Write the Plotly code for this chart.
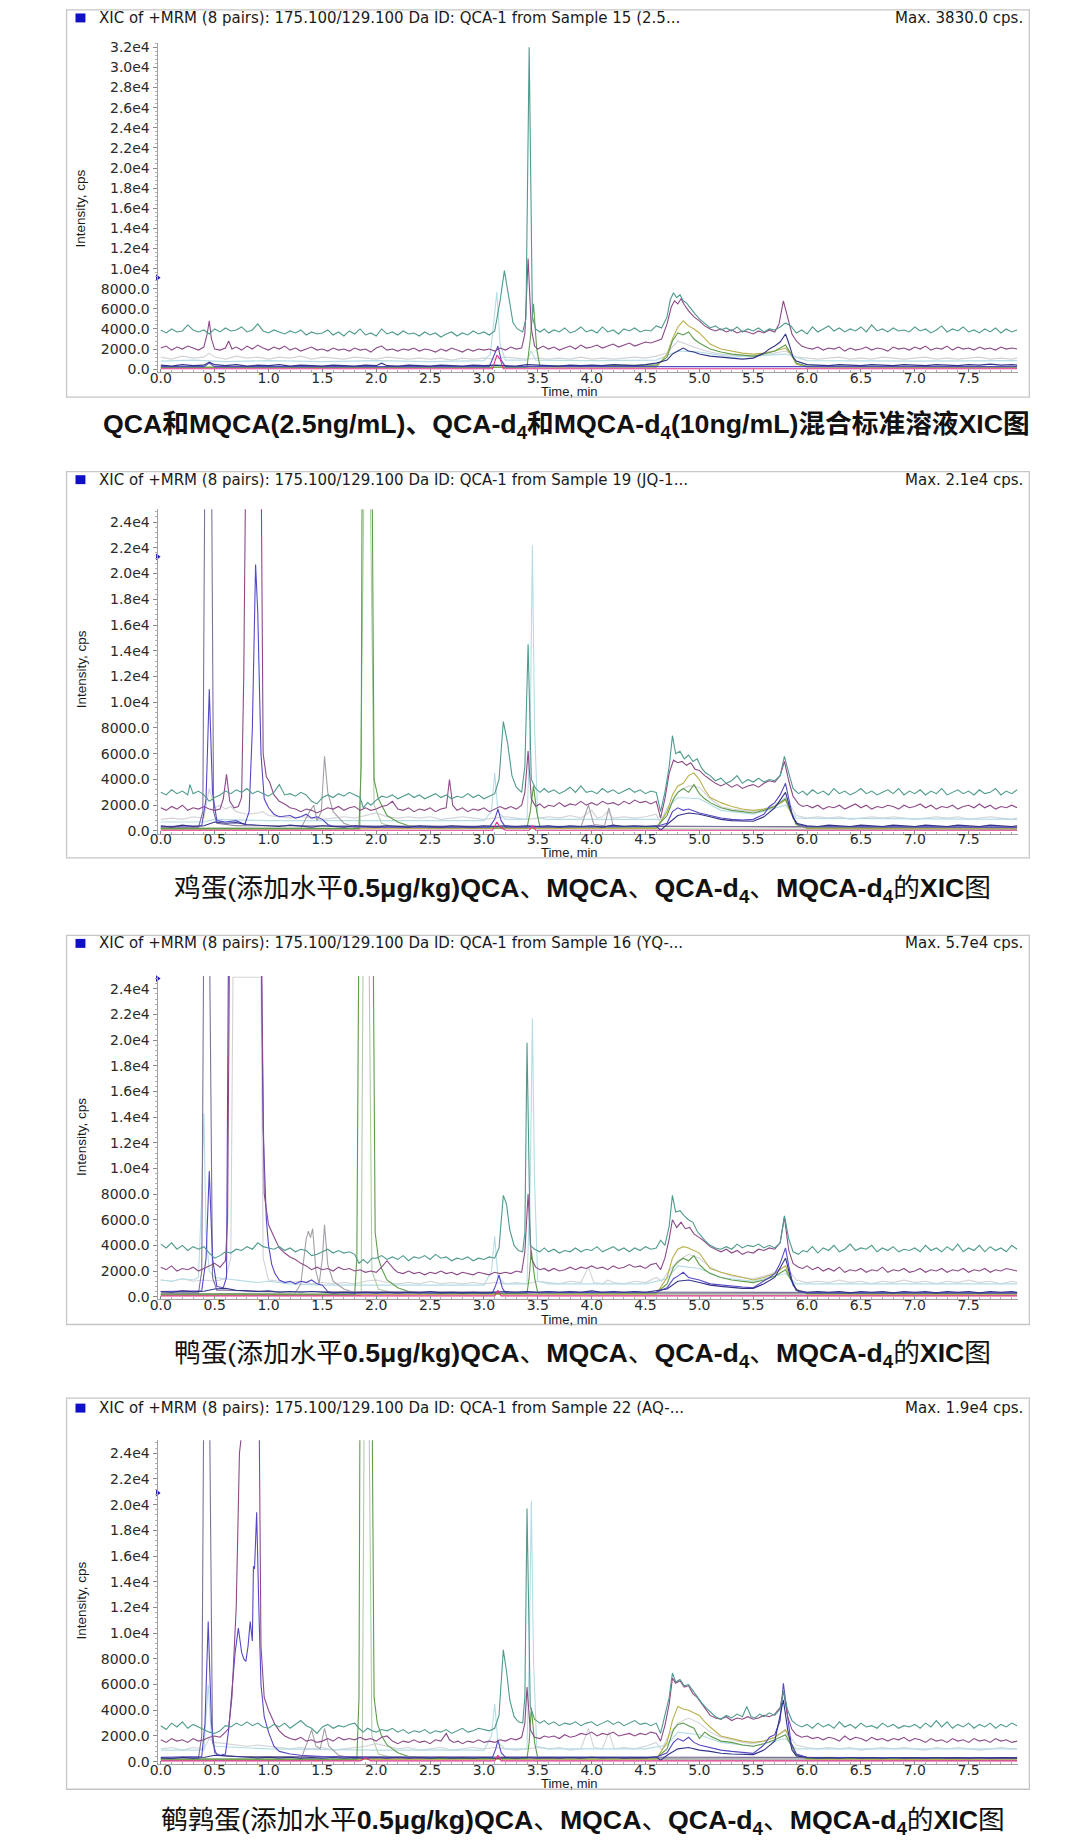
import plotly.graph_objects as go

# ======================= DATA (time, min ; intensity, cps) =======================
# ---------- Panel 1 : standard solution ----------
P1_TEAL = [(0.00,3900),(0.05,3600),(0.10,4000),(0.15,3700),(0.20,3800),(0.25,4400),(0.30,3900),(0.35,3700),(0.40,3900),(0.45,3500),(0.50,4000),(0.55,3700),(0.60,4100),(0.65,3800),(0.70,3900),(0.75,4200),(0.80,3700),(0.85,3900),(0.90,4500),(0.95,3800),
(1.00,3600),(1.05,3900),(1.10,3700),(1.15,3500),(1.20,3800),(1.25,3600),(1.30,3900),(1.35,3400),(1.40,3700),(1.45,3500),(1.50,3600),(1.55,3900),(1.60,3400),(1.65,3700),(1.70,3300),(1.75,3800),(1.80,3500),(1.85,4000),(1.90,3400),(1.95,3600),
(2.00,3300),(2.05,4000),(2.10,3500),(2.15,3700),(2.20,3400),(2.25,3800),(2.30,3500),(2.35,3600),(2.40,3300),(2.45,3700),(2.50,3400),(2.55,3600),(2.60,3200),(2.65,3500),(2.70,3700),(2.75,3300),(2.80,3600),(2.85,3400),(2.90,3800),(2.95,3500),
(3.00,3700),(3.05,3400),(3.10,3800),(3.15,6800),(3.19,9800),(3.23,7000),(3.27,4600),(3.31,4000),(3.36,3700),(3.39,5000),(3.42,32000),(3.45,5200),(3.48,4000),(3.52,3700),(3.56,4000),(3.60,3600),(3.65,3900),(3.70,3700),(3.75,4100),(3.80,3600),(3.85,3800),(3.90,4200),(3.95,3700),
(4.00,3900),(4.05,3600),(4.10,4200),(4.15,3700),(4.20,3900),(4.25,3500),(4.30,4000),(4.35,3800),(4.40,4100),(4.45,3700),(4.50,3900),(4.55,3800),(4.60,4300),(4.65,4100),(4.70,5200),(4.73,6900),(4.76,7600),(4.79,7100),(4.82,7400),(4.85,6800),(4.88,6600),(4.92,6000),(4.96,5500),
(5.00,5000),(5.05,4500),(5.10,4100),(5.15,4300),(5.20,3900),(5.25,4100),(5.30,3800),(5.35,4200),(5.40,3700),(5.45,4000),(5.50,3800),(5.55,4100),(5.60,3700),(5.65,4000),(5.70,3900),(5.75,4200),(5.80,4600),(5.85,4300),(5.90,3600),(5.95,3900),
(6.00,3500),(6.05,4200),(6.10,3700),(6.15,4000),(6.20,4300),(6.25,3800),(6.30,4100),(6.35,3700),(6.40,4000),(6.45,3800),(6.50,4200),(6.55,3700),(6.60,4400),(6.65,3800),(6.70,4000),(6.75,3700),(6.80,4100),(6.85,3800),(6.90,3900),(6.95,3700),
(7.00,4200),(7.05,3800),(7.10,4000),(7.15,3600),(7.20,3900),(7.25,4300),(7.30,3700),(7.35,4000),(7.40,3800),(7.45,4200),(7.50,3700),(7.55,3900),(7.60,3600),(7.65,4000),(7.70,3700),(7.75,4100),(7.80,3600),(7.85,4000),(7.90,3700),(7.95,3900)]
P1_PURPLE = [(0.00,2100),(0.05,2300),(0.10,1900),(0.15,2200),(0.20,2000),(0.25,2300),(0.30,2100),(0.35,1900),(0.40,2200),(0.43,3500),(0.45,4800),(0.47,3000),(0.50,2000),(0.55,1900),(0.60,2100),(0.63,2800),(0.66,2000),(0.70,2200),(0.75,1900),(0.80,2300),(0.85,2000),(0.90,2400),(0.95,2100),
(1.00,1900),(1.05,2200),(1.10,2000),(1.15,2300),(1.20,1900),(1.25,2100),(1.30,1800),(1.35,2000),(1.40,2200),(1.45,1900),(1.50,2000),(1.55,1800),(1.60,2100),(1.65,1900),(1.70,2000),(1.75,1800),(1.80,2100),(1.85,1900),(1.90,2000),(1.95,1700),
(2.00,2100),(2.05,2300),(2.10,1900),(2.15,2000),(2.20,1800),(2.25,2000),(2.30,1900),(2.35,2100),(2.40,1800),(2.45,2000),(2.50,1900),(2.55,1700),(2.60,2000),(2.65,1800),(2.70,2100),(2.75,1900),(2.80,1700),(2.85,2000),(2.90,1800),(2.95,2000),
(3.00,1900),(3.05,2000),(3.10,1800),(3.15,2100),(3.20,1900),(3.25,2200),(3.30,2000),(3.35,2100),(3.38,3500),(3.41,11000),(3.44,4000),(3.47,2300),(3.50,2000),(3.55,2300),(3.60,2000),(3.65,2200),(3.70,1900),(3.75,2100),(3.80,2300),(3.85,2000),(3.90,2400),(3.95,2100),
(4.00,2200),(4.05,2400),(4.10,2100),(4.15,2300),(4.20,2500),(4.25,2200),(4.30,2400),(4.35,2600),(4.40,2300),(4.45,2500),(4.50,2700),(4.55,2600),(4.60,2800),(4.65,3000),(4.70,4500),(4.74,6200),(4.77,6800),(4.80,6500),(4.83,7000),(4.86,6400),(4.90,5800),(4.95,5200),
(5.00,4800),(5.05,4300),(5.10,4000),(5.15,3800),(5.20,4000),(5.25,3700),(5.30,3900),(5.35,3600),(5.40,3800),(5.45,3700),(5.50,3500),(5.55,3800),(5.60,3600),(5.65,3900),(5.70,3700),(5.74,4500),(5.78,6800),(5.82,5000),(5.86,3500),(5.90,2800),(5.95,2300),
(6.00,2100),(6.05,2000),(6.10,2200),(6.15,1900),(6.20,2100),(6.25,2000),(6.30,2200),(6.35,1800),(6.40,2100),(6.45,1900),(6.50,2000),(6.55,2200),(6.60,1900),(6.65,2100),(6.70,2000),(6.75,1800),(6.80,2200),(6.85,2000),(6.90,2100),(6.95,1900),
(7.00,2200),(7.05,2000),(7.10,2300),(7.15,1900),(7.20,2100),(7.25,2000),(7.30,2300),(7.35,1900),(7.40,2200),(7.45,2000),(7.50,2100),(7.55,1900),(7.60,2200),(7.65,2000),(7.70,2100),(7.75,1900),(7.80,2200),(7.85,2000),(7.90,2100),(7.95,2000)]
P1_GRAY = [(0,1200),(0.1,1000),(0.2,1300),(0.3,1100),(0.4,1200),(0.45,1600),(0.5,1200),(0.6,1000),(0.7,1300),(0.8,1100),(0.9,1200),(1.0,1000),(1.1,1200),(1.2,1100),(1.3,1300),(1.4,1000),(1.5,1200),(1.6,1100),(1.7,1000),(1.8,1200),(1.9,1100),(2.0,1000),(2.1,1200),(2.2,1100),(2.3,1000),(2.4,1100),(2.5,1000),(2.6,1100),(2.7,900),(2.8,1100),(2.9,1000),(3.0,1100),(3.1,1000),(3.2,1200),(3.3,1100),(3.4,1000),(3.5,1100),(3.6,1000),(3.7,1100),(3.8,1000),(3.9,1200),(4.0,1000),(4.1,1100),(4.2,1000),(4.3,1100),(4.4,1200),(4.5,1100),(4.6,1300),(4.7,1600),(4.8,2800),(4.9,2400),(5.0,2000),(5.1,1700),(5.2,1500),(5.3,1400),(5.4,1300),(5.5,1200),(5.6,1400),(5.7,1600),(5.8,1800),(5.9,1200),(6.0,1100),(6.1,1000),(6.2,1100),(6.3,1200),(6.4,1000),(6.5,1100),(6.6,1000),(6.7,1200),(6.8,1100),(6.9,1000),(7.0,1100),(7.1,1200),(7.2,1000),(7.3,1100),(7.4,1000),(7.5,1100),(7.6,1200),(7.7,1000),(7.8,1100),(7.9,1000),(7.95,1100)]
P1_NAVY = [(0,400),(0.1,300),(0.2,450),(0.3,350),(0.4,400),(0.45,700),(0.5,450),(0.6,350),(0.7,450),(0.8,300),(0.9,400),(1.0,350),(1.1,450),(1.2,300),(1.3,400),(1.4,350),(1.5,300),(1.6,400),(1.7,350),(1.8,300),(1.9,400),(2.0,350),(2.05,600),(2.1,350),(2.2,300),(2.3,400),(2.4,350),(2.5,300),(2.6,400),(2.7,350),(2.8,300),(2.9,400),(3.0,350),(3.1,400),(3.2,350),(3.3,300),(3.4,450),(3.5,400),(3.6,350),(3.7,300),(3.8,400),(3.9,350),(4.0,400),(4.1,350),(4.2,450),(4.3,400),(4.4,350),(4.5,450),(4.6,600),(4.7,900),(4.75,1500),(4.8,1800),(4.85,2100),(4.9,1800),(4.95,1700),(5.0,1500),(5.1,1300),(5.2,1200),(5.3,1100),(5.4,1000),(5.5,1100),(5.6,1600),(5.65,2000),(5.7,2300),(5.75,2700),(5.8,3500),(5.83,2600),(5.87,1200),(5.9,800),(6.0,450),(6.1,400),(6.2,350),(6.3,450),(6.4,400),(6.5,350),(6.6,450),(6.7,400),(6.8,350),(6.9,450),(7.0,400),(7.1,350),(7.2,450),(7.3,400),(7.4,350),(7.5,450),(7.6,400),(7.7,500),(7.8,400),(7.9,450),(7.95,400)]
P1_MAGENTA = [(0,50),(3.08,50),(3.12,1400),(3.15,1000),(3.18,50),(7.95,50)]
P1_VIOLET = [(0,250),(0.4,250),(0.45,600),(0.5,250),(3.05,250),(3.1,1500),(3.13,2300),(3.16,900),(3.2,250),(7.95,250)]
P1_GREEN = [(0,200),(3.40,200),(3.43,3000),(3.46,6500),(3.49,2000),(3.52,300),(4.6,400),(4.7,1200),(4.75,2800),(4.8,3600),(4.85,3400),(4.9,3700),(4.95,3000),(5.0,2600),(5.1,2000),(5.2,1700),(5.3,1500),(5.4,1400),(5.5,1300),(5.6,1500),(5.7,1800),(5.8,2400),(5.85,1500),(5.9,600),(6.0,300),(7.95,250)]
P1_OLIVE = [(0,150),(4.6,200),(4.7,1500),(4.75,3000),(4.8,4200),(4.85,4800),(4.9,4300),(4.95,4000),(5.0,3600),(5.05,3000),(5.1,2500),(5.2,2000),(5.3,1800),(5.4,1600),(5.5,1500),(5.6,1600),(5.7,1800),(5.8,2100),(5.85,1500),(5.9,500),(6.0,200),(7.95,150)]
P1_CYAN = [(0,800),(0.3,900),(0.6,750),(1.0,850),(1.5,750),(2.0,850),(2.5,750),(3.0,850),(3.06,1500),(3.09,4500),(3.12,7700),(3.15,2500),(3.2,900),(3.4,900),(3.44,1800),(3.48,900),(4.0,850),(4.6,900),(4.8,1800),(5.0,1700),(5.3,1200),(5.8,1500),(6.0,850),(7.0,800),(7.95,850)]

# ---------- Panel 2 : chicken egg ----------
P2_TEAL = [(0.00,3000),(0.05,2800),(0.10,3200),(0.15,2900),(0.20,3100),(0.25,2800),(0.27,3600),(0.30,2900),(0.35,3100),(0.40,2800),(0.45,2300),(0.50,2600),(0.55,2800),(0.60,3100),(0.65,2900),(0.70,3200),(0.75,3000),(0.80,3300),(0.85,2900),(0.90,3100),(0.95,2900),
(1.00,2700),(1.05,3000),(1.10,3600),(1.15,2800),(1.20,2900),(1.25,2700),(1.30,3000),(1.35,2800),(1.40,2300),(1.45,2100),(1.50,2600),(1.55,2800),(1.60,2600),(1.65,2900),(1.70,2700),(1.75,3000),(1.80,2800),(1.85,2600),(1.88,1800),(1.92,2200),(1.95,2000),
(2.00,2400),(2.05,2700),(2.10,2600),(2.15,2800),(2.20,2500),(2.25,2700),(2.30,2900),(2.35,2600),(2.40,2800),(2.45,2500),(2.50,2700),(2.55,2900),(2.60,2600),(2.65,2800),(2.70,2500),(2.75,2700),(2.80,2600),(2.85,2900),(2.90,2600),(2.95,2800),
(3.00,2500),(3.05,2700),(3.10,2900),(3.14,4000),(3.18,8500),(3.22,6800),(3.26,4300),(3.30,3400),(3.35,3000),(3.38,5000),(3.41,14500),(3.44,4000),(3.48,3300),(3.52,3000),(3.56,3300),(3.60,3000),(3.65,3200),(3.70,2900),(3.75,3100),(3.80,3400),(3.85,3000),(3.90,3500),(3.95,3000),
(4.00,3100),(4.05,2900),(4.10,3300),(4.15,3000),(4.20,3200),(4.25,2900),(4.30,3100),(4.35,3300),(4.40,3000),(4.45,3200),(4.50,2900),(4.55,3100),(4.60,3000),(4.64,1500),(4.68,3000),(4.72,5000),(4.75,7400),(4.78,6000),(4.82,6200),(4.86,5600),(4.90,5900),(4.94,5400),(4.98,5600),
(5.02,4900),(5.06,4500),(5.10,4300),(5.15,3900),(5.20,4100),(5.25,3700),(5.30,3900),(5.35,4300),(5.40,3700),(5.45,4000),(5.50,3800),(5.55,4100),(5.60,3800),(5.65,4000),(5.70,3900),(5.75,4300),(5.79,5800),(5.83,4500),(5.87,3300),(5.92,2900),(5.96,3100),
(6.00,2800),(6.05,3200),(6.10,2900),(6.15,3100),(6.20,2800),(6.25,3300),(6.30,2900),(6.35,3100),(6.40,2800),(6.45,3000),(6.50,3300),(6.55,2900),(6.60,3100),(6.65,2800),(6.70,3000),(6.75,3200),(6.80,2900),(6.85,3300),(6.90,2800),(6.95,3100),
(7.00,2900),(7.05,3200),(7.10,2800),(7.15,3100),(7.20,2900),(7.25,3300),(7.30,2800),(7.35,3000),(7.40,3200),(7.45,2900),(7.50,3100),(7.55,2800),(7.60,3200),(7.65,2900),(7.70,3000),(7.75,3300),(7.80,2800),(7.85,3100),(7.90,2900),(7.95,3200)]
P2_PURPLE = [(0.00,1800),(0.05,1600),(0.10,1900),(0.15,1700),(0.20,2000),(0.25,1600),(0.30,1800),(0.35,1700),(0.40,1900),(0.45,1700),(0.50,1600),(0.55,1700),(0.58,2500),(0.61,4400),(0.64,2300),(0.68,1800),(0.72,1900),(0.75,2600),(0.77,12000),(0.79,30000),(0.93,30000),(0.95,6000),(0.98,4200),
(1.01,3800),(1.05,2800),(1.10,2300),(1.15,2100),(1.20,1800),(1.25,1700),(1.30,1500),(1.35,1700),(1.40,1600),(1.45,1400),(1.50,1600),(1.55,1800),(1.60,1700),(1.65,1900),(1.70,1600),(1.75,1800),(1.80,1900),(1.85,1600),(1.90,1800),(1.95,1600),
(2.00,1700),(2.05,1900),(2.10,2000),(2.15,2300),(2.20,1700),(2.25,1600),(2.30,1800),(2.35,1500),(2.40,1700),(2.45,1600),(2.50,1800),(2.55,1500),(2.60,1700),(2.65,1800),(2.68,4000),(2.71,2000),(2.75,1600),(2.80,1800),(2.85,1500),(2.90,1700),(2.95,1600),
(3.00,1800),(3.05,1500),(3.10,1700),(3.15,1900),(3.20,1700),(3.25,1900),(3.30,1700),(3.35,2000),(3.38,3000),(3.41,6200),(3.44,2500),(3.48,1900),(3.52,2100),(3.56,1800),(3.60,2000),(3.65,1900),(3.70,2200),(3.75,1900),(3.80,2100),(3.85,2000),(3.90,2300),(3.95,2000),
(4.00,2200),(4.05,2000),(4.10,2300),(4.15,2100),(4.20,2200),(4.25,2000),(4.30,2300),(4.35,2100),(4.40,2400),(4.45,2200),(4.50,2300),(4.55,2100),(4.60,2300),(4.64,1000),(4.68,2500),(4.72,4500),(4.76,5500),(4.80,5300),(4.84,5400),(4.88,5100),(4.92,5300),(4.96,4800),
(5.00,4700),(5.05,4300),(5.10,4000),(5.15,3700),(5.20,3500),(5.25,3700),(5.30,3400),(5.35,3600),(5.40,3300),(5.45,3500),(5.50,3600),(5.55,3400),(5.60,3700),(5.65,3900),(5.70,3800),(5.75,4300),(5.79,5400),(5.83,3900),(5.87,2700),(5.92,2100),(5.96,1900),
(6.00,2000),(6.05,1800),(6.10,2000),(6.15,1700),(6.20,1900),(6.25,1800),(6.30,2000),(6.35,1700),(6.40,1900),(6.45,2100),(6.50,1800),(6.55,2000),(6.60,1700),(6.65,1900),(6.70,1800),(6.75,2000),(6.80,1900),(6.85,1700),(6.90,2000),(6.95,1800),
(7.00,1900),(7.05,2100),(7.10,1800),(7.15,2000),(7.20,1700),(7.25,1900),(7.30,1800),(7.35,2000),(7.40,1700),(7.45,1900),(7.50,2000),(7.55,1800),(7.60,2100),(7.65,1800),(7.70,2000),(7.75,1700),(7.80,1900),(7.85,1800),(7.90,2000),(7.95,1800)]
P2_MAUVE = [(0,300),(0.35,300),(0.39,1500),(0.41,30000),(0.47,30000),(0.49,1500),(0.52,600),(0.6,500),(0.7,400),(1.0,400),(7.95,300)]
P2_VIOLET = [(0,350),(0.38,400),(0.42,2500),(0.45,11000),(0.48,3000),(0.52,800),(0.6,700),(0.7,800),(0.78,500),(0.82,1500),(0.85,8000),(0.88,20700),(0.90,17000),(0.93,6000),(0.96,2500),(1.0,1800),(1.05,1300),(1.1,1100),(1.2,1200),(1.25,1000),(1.3,1100),(1.35,1300),(1.4,1000),(1.45,1100),(1.5,900),(1.55,500),(1.6,350),(2.0,300),(3.05,300),(3.1,900),(3.13,1700),(3.16,800),(3.2,300),(4.6,350),(4.7,600),(4.75,1500),(4.8,1800),(4.85,1600),(4.9,1700),(5.0,1400),(5.1,1200),(5.2,1000),(5.3,900),(5.4,850),(5.5,900),(5.6,1300),(5.65,1900),(5.7,2200),(5.75,2800),(5.8,3700),(5.83,2500),(5.87,1000),(5.92,500),(6.0,350),(7.95,300)]
P2_NAVY = [(0,400),(0.1,300),(0.2,450),(0.3,350),(0.4,400),(0.5,700),(0.6,600),(0.7,650),(0.8,500),(0.9,450),(1.0,400),(1.1,350),(1.2,450),(1.3,350),(1.4,300),(1.5,400),(1.6,350),(1.7,300),(1.8,400),(1.9,350),(2.0,300),(2.1,400),(2.2,350),(2.3,300),(2.4,400),(2.5,350),(2.6,300),(2.7,400),(2.8,350),(2.9,300),(3.0,400),(3.1,350),(3.2,400),(3.3,350),(3.4,400),(3.5,350),(3.6,400),(3.7,300),(3.8,400),(3.9,350),(4.0,400),(4.1,300),(4.2,450),(4.3,350),(4.4,400),(4.5,350),(4.6,400),(4.64,50),(4.7,500),(4.8,1200),(4.9,1400),(5.0,1300),(5.1,1100),(5.2,900),(5.3,800),(5.4,800),(5.5,750),(5.6,1100),(5.7,1800),(5.8,3000),(5.85,1500),(5.9,600),(6.0,400),(6.1,350),(6.2,450),(6.3,400),(6.4,350),(6.5,450),(6.6,400),(6.7,350),(6.8,450),(6.9,400),(7.0,350),(7.1,450),(7.2,400),(7.3,350),(7.4,450),(7.5,400),(7.6,350),(7.7,450),(7.8,400),(7.9,350),(7.95,400)]
P2_GRAY = [(0,900),(0.1,1000),(0.2,900),(0.3,1100),(0.4,1000),(0.45,3300),(0.5,1800),(0.55,2000),(0.6,1700),(0.65,1900),(0.7,1500),(0.8,1300),(0.9,1400),(0.95,1500),(1.0,1200),(1.1,1100),(1.2,1000),(1.3,1100),(1.4,1000),(1.5,900),(1.6,1000),(1.7,1100),(1.8,1000),(1.9,1200),(2.0,1400),(2.1,1100),(2.2,1000),(2.3,1100),(2.4,1000),(2.5,1100),(2.6,900),(2.7,1000),(2.8,1100),(2.9,1000),(3.0,900),(3.1,1000),(3.2,1100),(3.3,1000),(3.4,900),(3.5,1000),(3.6,1100),(3.7,1000),(3.8,1200),(3.9,1000),(4.0,1600),(4.05,1000),(4.1,1100),(4.15,1500),(4.2,1000),(4.3,1100),(4.4,1000),(4.5,1100),(4.6,1300),(4.64,600),(4.7,1500),(4.8,3000),(4.9,3500),(5.0,3400),(5.1,2500),(5.2,1900),(5.3,1700),(5.4,1600),(5.5,1500),(5.6,1700),(5.7,2000),(5.8,2600),(5.9,1200),(6.0,1000),(6.1,1100),(6.2,1000),(6.3,1100),(6.4,900),(6.5,1000),(6.6,1100),(6.7,1000),(6.8,1100),(6.9,1000),(7.0,900),(7.1,1000),(7.2,1100),(7.3,1000),(7.4,1100),(7.5,900),(7.6,1000),(7.7,1100),(7.8,1000),(7.9,900),(7.95,1000)]
P2_MIDGRAY = [(0,200),(1.3,200),(1.38,1500),(1.42,2000),(1.45,800),(1.49,1500),(1.52,5800),(1.55,3000),(1.6,1500),(1.7,600),(1.8,300),(3.9,300),(3.97,2000),(4.02,500),(4.12,400),(4.16,1800),(4.2,400),(7.95,200)]
P2_GREEN = [(0,200),(1.84,200),(1.86,5000),(1.87,30000),(1.96,30000),(1.98,4000),(2.02,2500),(2.06,1800),(2.1,1200),(2.2,700),(2.3,400),(2.5,250),(3.40,250),(3.43,1500),(3.46,3500),(3.49,1500),(3.52,300),(4.6,300),(4.7,1200),(4.76,2500),(4.8,3000),(4.85,3300),(4.9,3000),(4.95,3600),(5.0,2900),(5.05,2500),(5.1,2200),(5.2,1800),(5.3,1600),(5.4,1500),(5.5,1400),(5.6,1600),(5.7,1900),(5.8,2500),(5.85,1500),(5.9,500),(6.0,250),(7.95,250)]
P2_LTGREEN = [(0,100),(1.85,100),(1.89,30000),(1.94,30000),(1.98,2000),(2.05,600),(2.2,200),(7.95,100)]
P2_OLIVE = [(0,150),(4.6,200),(4.7,1500),(4.75,2800),(4.8,3500),(4.85,3700),(4.9,4300),(4.95,4500),(5.0,4000),(5.05,3200),(5.1,2600),(5.2,2200),(5.3,1900),(5.4,1700),(5.5,1600),(5.6,1700),(5.7,1900),(5.8,2400),(5.85,1400),(5.9,500),(6.0,200),(7.95,150)]
P2_CYAN = [(0,700),(0.4,700),(0.5,900),(1.0,800),(3.0,800),(3.07,1500),(3.1,4500),(3.13,1500),(3.2,900),(3.4,900),(3.43,8000),(3.45,22200),(3.47,8000),(3.5,1000),(3.6,900),(4.5,900),(4.65,900),(4.7,1800),(4.8,2600),(5.0,2500),(5.2,1600),(5.5,1300),(5.8,2000),(5.9,1000),(7.95,900)]
P2_MAGENTA = [(0,60),(3.08,60),(3.12,700),(3.15,300),(3.2,60),(3.42,60),(3.45,400),(3.48,60),(7.95,60)]

# ---------- Panel 3 : duck egg ----------
P3_TEAL = [(0.00,4100),(0.05,3800),(0.10,4200),(0.15,3700),(0.20,4000),(0.25,3600),(0.30,3900),(0.35,3700),(0.40,3900),(0.45,3400),(0.50,3000),(0.55,3200),(0.60,3500),(0.65,3400),(0.70,3700),(0.75,3600),(0.80,3900),(0.85,3700),(0.90,4200),(0.95,3900),
(1.00,3800),(1.05,3700),(1.10,3900),(1.15,3600),(1.20,3800),(1.25,3500),(1.30,3700),(1.35,3600),(1.40,3200),(1.45,3300),(1.50,3500),(1.55,3700),(1.60,3400),(1.65,3600),(1.70,3400),(1.75,3500),(1.80,3300),(1.84,2600),(1.88,2900),(1.92,2600),(1.96,3000),
(2.00,3000),(2.05,3200),(2.10,2900),(2.15,3100),(2.20,2900),(2.25,3200),(2.30,2800),(2.35,3100),(2.40,3000),(2.45,3200),(2.50,2900),(2.55,3300),(2.60,3000),(2.65,3100),(2.70,2800),(2.75,3000),(2.80,2900),(2.85,3100),(2.90,2800),(2.95,3000),
(3.00,2900),(3.05,3100),(3.10,3000),(3.14,3800),(3.18,7900),(3.21,7200),(3.24,5200),(3.28,4000),(3.32,3600),(3.36,3500),(3.38,5000),(3.40,19800),(3.43,4000),(3.47,3700),(3.52,3500),(3.56,3800),(3.60,3500),(3.65,3700),(3.70,3400),(3.75,3600),(3.80,3500),(3.85,3800),(3.90,3500),(3.95,3700),
(4.00,3600),(4.05,3900),(4.10,3500),(4.15,3700),(4.20,3900),(4.25,3600),(4.30,3800),(4.35,3500),(4.40,3800),(4.45,3600),(4.50,3900),(4.55,3700),(4.60,3800),(4.64,4400),(4.68,4000),(4.72,5500),(4.75,7900),(4.78,6600),(4.82,6700),(4.86,6300),(4.90,6000),(4.94,5800),(4.98,5100),
(5.02,4700),(5.06,4300),(5.10,4000),(5.15,3800),(5.20,3700),(5.25,3900),(5.30,3700),(5.35,4100),(5.40,3800),(5.45,4000),(5.50,3900),(5.55,4100),(5.60,3800),(5.65,4000),(5.70,3800),(5.75,4200),(5.79,6300),(5.83,4500),(5.87,3500),(5.92,3300),(5.96,3600),
(6.00,3500),(6.05,3900),(6.10,3400),(6.15,3800),(6.20,3600),(6.25,4000),(6.30,3500),(6.35,3700),(6.40,4100),(6.45,3600),(6.50,3800),(6.55,3700),(6.60,4000),(6.65,3500),(6.70,3800),(6.75,3600),(6.80,3900),(6.85,3500),(6.90,3700),(6.95,3600),
(7.00,3800),(7.05,3500),(7.10,4000),(7.15,3600),(7.20,3800),(7.25,3500),(7.30,3900),(7.35,3600),(7.40,4100),(7.45,3500),(7.50,3800),(7.55,3600),(7.60,4000),(7.65,3500),(7.70,3900),(7.75,3600),(7.80,3800),(7.85,3500),(7.90,4000),(7.95,3700)]
P3_PURPLE = [(0.00,2300),(0.05,2100),(0.10,2400),(0.15,2000),(0.20,2200),(0.25,2100),(0.30,2300),(0.35,2000),(0.40,2200),(0.45,2400),(0.50,2600),(0.55,2300),(0.60,2800),(0.62,6000),(0.64,30000),(0.93,30000),(0.96,8000),
(1.00,5600),(1.03,5000),(1.06,4500),(1.10,3800),(1.15,3400),(1.20,3100),(1.25,2900),(1.30,2600),(1.35,2400),(1.40,2100),(1.45,2300),(1.50,2100),(1.55,2200),(1.60,2000),(1.65,2300),(1.70,2100),(1.75,2200),(1.80,2000),(1.85,2100),(1.90,1900),(1.95,2000),
(2.00,1900),(2.05,2300),(2.10,2800),(2.13,2500),(2.17,2100),(2.20,1900),(2.25,1800),(2.30,2000),(2.35,1800),(2.40,1900),(2.45,1700),(2.50,1900),(2.55,1800),(2.60,2000),(2.65,1800),(2.70,1900),(2.75,1700),(2.80,1900),(2.85,1800),(2.90,1700),(2.95,1900),
(3.00,1800),(3.05,1700),(3.10,1900),(3.15,1800),(3.20,1900),(3.25,1800),(3.30,2000),(3.35,1900),(3.38,3500),(3.41,8000),(3.44,3000),(3.48,2300),(3.52,2100),(3.56,2200),(3.60,2000),(3.65,2200),(3.70,2000),(3.75,2100),(3.80,2300),(3.85,2100),(3.90,2300),(3.95,2200),
(4.00,2400),(4.05,2200),(4.10,2300),(4.15,2100),(4.20,2400),(4.25,2200),(4.30,2300),(4.35,2500),(4.40,2300),(4.45,2400),(4.50,2200),(4.55,2500),(4.60,2600),(4.64,2100),(4.68,3000),(4.72,4500),(4.75,6000),(4.79,5400),(4.83,5800),(4.87,5300),(4.91,5400),(4.95,4900),
(5.00,4600),(5.05,4300),(5.10,3900),(5.15,3700),(5.20,3500),(5.25,3700),(5.30,3400),(5.35,3600),(5.40,3300),(5.45,3500),(5.50,3400),(5.55,3700),(5.60,3600),(5.65,3800),(5.70,3700),(5.75,4200),(5.79,6200),(5.83,3600),(5.87,2600),(5.92,2300),(5.96,2200),
(6.00,2400),(6.05,2100),(6.10,2300),(6.15,2000),(6.20,2200),(6.25,2000),(6.30,2300),(6.35,1900),(6.40,2100),(6.45,2000),(6.50,2200),(6.55,1900),(6.60,2100),(6.65,2000),(6.70,2300),(6.75,1900),(6.80,2100),(6.85,2000),(6.90,2200),(6.95,1900),
(7.00,2000),(7.05,2200),(7.10,1900),(7.15,2100),(7.20,2000),(7.25,2200),(7.30,1900),(7.35,2100),(7.40,2000),(7.45,2200),(7.50,1900),(7.55,2100),(7.60,2000),(7.65,2200),(7.70,1900),(7.75,2100),(7.80,2000),(7.85,2200),(7.90,2100),(7.95,2000)]
P3_VIOLET = [(0,400),(0.38,450),(0.42,3000),(0.45,9800),(0.48,3000),(0.52,800),(0.58,700),(0.61,1500),(0.63,30000),(0.93,30000),(0.95,13000),(0.98,6000),(1.0,4000),(1.03,2500),(1.06,1800),(1.1,1300),(1.15,1100),(1.2,1200),(1.25,1000),(1.3,1200),(1.35,1100),(1.4,1300),(1.45,1000),(1.5,900),(1.55,400),(1.6,300),(3.08,300),(3.11,900),(3.14,1700),(3.17,700),(3.2,300),(4.6,350),(4.7,700),(4.76,1400),(4.8,1600),(4.85,1900),(4.9,1500),(4.95,1400),(5.0,1300),(5.1,1000),(5.2,900),(5.3,800),(5.4,750),(5.5,700),(5.6,1200),(5.65,1500),(5.7,1800),(5.75,2600),(5.8,3800),(5.83,2400),(5.87,900),(5.92,400),(6.0,300),(7.95,300)]
P3_MAUVE = [(0,300),(0.35,300),(0.38,2000),(0.40,30000),(0.45,30000),(0.48,1500),(0.52,500),(0.6,500),(1.0,400),(7.95,300)]
P3_CYAN = [(0,1300),(0.1,1200),(0.2,1400),(0.3,1300),(0.35,1500),(0.38,8000),(0.40,14300),(0.42,5000),(0.45,2000),(0.5,1500),(0.6,1400),(0.7,1300),(0.8,1200),(0.9,1100),(1.0,1200),(1.2,1000),(1.5,900),(2.0,900),(2.5,900),(3.0,900),(3.07,2000),(3.1,4700),(3.13,1500),(3.2,1000),(3.4,1000),(3.43,9000),(3.45,21700),(3.47,9000),(3.5,1200),(3.6,1000),(4.5,1000),(4.7,1400),(4.8,2400),(5.0,2200),(5.2,1500),(5.5,1200),(5.8,1800),(5.9,1000),(7.95,1000)]
P3_GRAY = [(0,1300),(0.1,1200),(0.2,1400),(0.3,1200),(0.4,1300),(0.5,1200),(0.6,1400),(0.65,3000),(0.67,24900),(0.93,24900),(0.95,3000),(1.0,1300),(1.1,1200),(1.2,1100),(1.3,1200),(1.4,1000),(1.5,1100),(1.6,1000),(1.7,1100),(1.8,1000),(1.9,1200),(2.0,1300),(2.1,1100),(2.2,1000),(2.3,1100),(2.4,1000),(2.5,1200),(2.6,1000),(2.7,1100),(2.8,1000),(2.9,1100),(3.0,1000),(3.1,1100),(3.2,1000),(3.3,1100),(3.4,1000),(3.5,1200),(3.6,1100),(3.7,1000),(3.8,1200),(3.9,1100),(3.97,2300),(4.02,1100),(4.1,1000),(4.15,1300),(4.2,1100),(4.3,1000),(4.4,1200),(4.5,1100),(4.6,1500),(4.65,1200),(4.7,1800),(4.8,2800),(4.9,3300),(5.0,3000),(5.1,2300),(5.2,1900),(5.3,1600),(5.4,1500),(5.5,1400),(5.6,1600),(5.7,1900),(5.8,2400),(5.9,1300),(6.0,1100),(6.1,1200),(6.2,1100),(6.3,1300),(6.4,1100),(6.5,1200),(6.6,1000),(6.7,1200),(6.8,1100),(6.9,1300),(7.0,1100),(7.1,1200),(7.2,1000),(7.3,1200),(7.4,1100),(7.5,1300),(7.6,1100),(7.7,1200),(7.8,1000),(7.9,1200),(7.95,1100)]
P3_MIDGRAY = [(0,200),(1.25,300),(1.3,1000),(1.35,4500),(1.37,5100),(1.39,4600),(1.41,5300),(1.44,2000),(1.47,1000),(1.5,3000),(1.52,5600),(1.55,2500),(1.6,1200),(1.7,600),(1.8,300),(7.95,200)]
P3_GREEN = [(0,200),(1.8,200),(1.82,3000),(1.84,30000),(1.97,30000),(1.99,5000),(2.02,3000),(2.05,2200),(2.1,1300),(2.2,700),(2.3,400),(2.5,250),(3.40,250),(3.42,1500),(3.44,3600),(3.47,1500),(3.5,300),(4.6,300),(4.7,1000),(4.76,2300),(4.8,2700),(4.85,3000),(4.9,2800),(4.95,3200),(5.0,2500),(5.05,2100),(5.1,1800),(5.2,1500),(5.3,1300),(5.4,1200),(5.5,1100),(5.6,1300),(5.7,1600),(5.8,2100),(5.85,1300),(5.9,500),(6.0,250),(7.95,250)]
P3_LTGREEN = [(0,100),(1.86,100),(1.88,30000),(1.93,30000),(1.96,2000),(2.02,600),(2.2,200),(7.95,100)]
P3_OLIVE = [(0,150),(4.6,200),(4.7,1500),(4.75,3000),(4.8,3700),(4.85,3900),(4.9,3800),(4.95,3600),(5.0,3400),(5.05,2800),(5.1,2200),(5.2,1900),(5.3,1700),(5.4,1500),(5.5,1300),(5.6,1500),(5.7,1800),(5.8,2400),(5.85,1400),(5.9,600),(6.0,200),(7.95,150)]
P3_NAVY = [(0,400),(0.1,350),(0.2,450),(0.3,380),(0.4,420),(0.5,600),(0.6,650),(0.7,500),(0.8,450),(0.9,400),(1.0,450),(1.1,350),(1.2,400),(1.3,350),(1.4,400),(1.5,350),(1.6,300),(1.7,350),(1.8,300),(1.9,350),(2.0,300),(2.1,350),(2.2,300),(2.3,350),(2.4,300),(2.5,400),(2.6,300),(2.7,350),(2.8,300),(2.9,350),(3.0,300),(3.1,350),(3.2,400),(3.3,350),(3.4,400),(3.5,350),(3.6,400),(3.7,350),(3.8,400),(3.9,350),(4.0,450),(4.1,350),(4.2,400),(4.3,350),(4.4,400),(4.5,350),(4.6,450),(4.7,600),(4.8,1200),(4.9,1300),(5.0,1100),(5.1,900),(5.2,800),(5.3,700),(5.4,650),(5.5,650),(5.6,1000),(5.7,1500),(5.8,3000),(5.85,1400),(5.9,500),(6.0,350),(6.1,400),(6.2,350),(6.3,400),(6.4,300),(6.5,400),(6.6,350),(6.7,400),(6.8,300),(6.9,400),(7.0,350),(7.1,400),(7.2,300),(7.3,400),(7.4,350),(7.5,400),(7.6,300),(7.7,400),(7.8,350),(7.9,400),(7.95,350)]
P3_MAGENTA = [(0,60),(3.1,60),(3.13,500),(3.16,60),(7.95,60)]

# ---------- Panel 4 : quail egg ----------
P4_TEAL = [(0.00,2800),(0.05,2500),(0.10,3000),(0.15,2700),(0.20,3100),(0.25,2600),(0.30,2900),(0.35,2700),(0.40,2500),(0.45,2300),(0.50,2200),(0.55,2400),(0.60,2800),(0.65,2700),(0.70,3000),(0.75,2800),(0.80,3100),(0.85,2800),(0.90,3000),(0.95,2700),
(1.00,2600),(1.05,2900),(1.10,2700),(1.15,3000),(1.20,2600),(1.25,2900),(1.30,3200),(1.35,2800),(1.40,2600),(1.45,2200),(1.50,2700),(1.55,2900),(1.60,2600),(1.65,2800),(1.70,2700),(1.75,2900),(1.80,3000),(1.84,2600),(1.88,2300),(1.92,2600),(1.96,2400),
(2.00,2300),(2.05,2500),(2.10,2400),(2.15,2600),(2.20,2300),(2.25,2500),(2.30,2200),(2.35,2400),(2.40,2300),(2.45,2500),(2.50,2200),(2.55,2400),(2.60,2300),(2.65,2500),(2.70,2200),(2.75,2400),(2.80,2600),(2.85,2300),(2.90,2400),(2.95,2600),
(3.00,2500),(3.05,2400),(3.10,2600),(3.14,3600),(3.18,8700),(3.21,7000),(3.24,4800),(3.28,3500),(3.32,3100),(3.36,3000),(3.38,5000),(3.40,19700),(3.43,4300),(3.47,3300),(3.52,3000),(3.56,3200),(3.60,2900),(3.65,3100),(3.70,2800),(3.75,3000),(3.80,2900),(3.85,3100),(3.90,2800),(3.95,3000),
(4.00,3100),(4.05,2800),(4.10,3000),(4.15,3200),(4.20,2900),(4.25,3100),(4.30,2800),(4.35,3000),(4.40,3200),(4.45,2900),(4.50,3000),(4.55,2800),(4.60,3000),(4.64,2200),(4.68,3500),(4.72,5000),(4.75,6900),(4.78,6200),(4.82,6400),(4.86,5900),(4.90,6000),(4.94,5500),(4.98,5000),
(5.02,4600),(5.06,4200),(5.10,3900),(5.15,3500),(5.20,3300),(5.25,3600),(5.30,3400),(5.35,3700),(5.40,3500),(5.44,4300),(5.48,3500),(5.52,3400),(5.56,3700),(5.60,3500),(5.65,3800),(5.70,3600),(5.75,4100),(5.78,5500),(5.82,4000),(5.86,3200),(5.90,2900),(5.95,2700),
(6.00,2900),(6.05,2600),(6.10,3000),(6.15,2700),(6.20,2900),(6.25,2600),(6.30,3100),(6.35,2700),(6.40,2900),(6.45,2600),(6.50,3000),(6.55,2700),(6.60,2800),(6.65,2600),(6.70,3000),(6.75,2700),(6.80,2900),(6.85,2600),(6.90,2800),(6.95,2700),
(7.00,2900),(7.05,2600),(7.10,3000),(7.15,2700),(7.20,3200),(7.25,2700),(7.30,3100),(7.35,2600),(7.40,2900),(7.45,2700),(7.50,3000),(7.55,2600),(7.60,2900),(7.65,2700),(7.70,3000),(7.75,2600),(7.80,2900),(7.85,2700),(7.90,3000),(7.95,2800)]
P4_PURPLE = [(0.00,1700),(0.05,1500),(0.10,1800),(0.15,1600),(0.20,1700),(0.25,1500),(0.30,1800),(0.35,1600),(0.40,1700),(0.45,1900),(0.50,2000),(0.55,1900),(0.60,2300),(0.63,2600),(0.66,5000),(0.70,12000),(0.73,24000),(0.75,25500),(0.78,30000),(0.91,30000),(0.93,9000),(0.96,5000),
(1.00,4000),(1.03,3500),(1.06,2900),(1.10,2400),(1.15,2000),(1.20,1800),(1.25,1700),(1.30,1900),(1.35,1600),(1.40,1700),(1.45,1500),(1.50,1600),(1.55,1800),(1.60,1600),(1.65,1900),(1.70,1700),(1.75,1800),(1.80,1700),(1.85,1900),(1.90,1700),(1.95,1800),
(2.00,1600),(2.05,1900),(2.10,2000),(2.15,1600),(2.20,1400),(2.25,1600),(2.30,1500),(2.35,1700),(2.40,1500),(2.45,1600),(2.50,1400),(2.55,1700),(2.60,1600),(2.65,2200),(2.68,1700),(2.72,1500),(2.76,1600),(2.80,1400),(2.85,1600),(2.90,1500),(2.95,1700),
(3.00,1500),(3.05,1600),(3.10,1500),(3.15,1700),(3.20,1600),(3.25,1800),(3.30,1700),(3.35,1900),(3.38,3000),(3.40,5800),(3.43,2500),(3.47,1900),(3.52,1800),(3.56,2000),(3.60,1900),(3.65,2000),(3.70,1800),(3.75,2100),(3.80,1900),(3.85,2000),(3.90,2200),(3.95,2100),
(4.00,2300),(4.05,2000),(4.10,2200),(4.15,2100),(4.20,2300),(4.25,2000),(4.30,2100),(4.35,2200),(4.40,2000),(4.45,2200),(4.50,2100),(4.55,2300),(4.60,2200),(4.64,1600),(4.68,2800),(4.72,4500),(4.75,6500),(4.78,6100),(4.82,6300),(4.86,5800),(4.90,5900),(4.94,5300),(4.98,5000),
(5.02,4500),(5.06,4000),(5.10,3600),(5.15,3400),(5.20,3300),(5.25,3500),(5.30,3200),(5.35,3400),(5.40,3300),(5.45,3500),(5.50,3300),(5.55,3400),(5.60,3600),(5.65,3500),(5.70,3700),(5.75,4200),(5.78,5500),(5.82,3500),(5.86,2500),(5.90,2100),(5.95,1900),
(6.00,2000),(6.05,1800),(6.10,1900),(6.15,1700),(6.20,1900),(6.25,1800),(6.30,1600),(6.35,2000),(6.40,1700),(6.45,1900),(6.50,1800),(6.55,1600),(6.60,1900),(6.65,1700),(6.70,1800),(6.75,1600),(6.80,1800),(6.85,1700),(6.90,1900),(6.95,1600),
(7.00,1800),(7.05,1700),(7.10,1500),(7.15,1800),(7.20,1600),(7.25,1700),(7.30,1500),(7.35,1800),(7.40,1600),(7.45,1700),(7.50,1500),(7.55,1800),(7.60,1600),(7.65,1700),(7.70,1500),(7.75,1800),(7.80,1600),(7.85,1700),(7.90,1500),(7.95,1600)]
P4_MAUVE = [(0,300),(0.35,300),(0.38,2000),(0.40,30000),(0.45,30000),(0.48,1500),(0.52,500),(0.7,400),(7.95,300)]
P4_VIOLET = [(0,350),(0.38,400),(0.41,3000),(0.44,10900),(0.47,3000),(0.5,700),(0.55,500),(0.6,600),(0.63,2500),(0.66,5500),(0.69,8500),(0.72,10400),(0.75,8500),(0.77,8000),(0.79,7800),(0.81,9000),(0.83,10900),(0.85,9400),(0.86,15200),(0.87,15000),(0.89,19400),(0.91,12000),(0.93,6000),(0.96,3500),(1.0,2300),(1.05,1200),(1.1,800),(1.2,600),(1.3,500),(1.5,400),(2.0,350),(3.08,350),(3.11,1000),(3.13,1700),(3.16,700),(3.2,350),(4.6,350),(4.7,700),(4.76,1500),(4.8,1800),(4.85,1600),(4.9,1900),(4.95,1500),(5.0,1300),(5.1,1100),(5.2,900),(5.3,800),(5.4,700),(5.5,650),(5.6,1300),(5.65,1900),(5.7,2100),(5.75,3200),(5.78,6100),(5.82,3500),(5.85,1500),(5.9,600),(6.0,350),(7.95,300)]
P4_NAVY = [(0,300),(0.1,250),(0.2,350),(0.3,280),(0.4,320),(0.5,500),(0.6,450),(0.7,400),(0.8,350),(0.9,300),(1.0,350),(1.1,300),(1.2,350),(1.3,280),(1.4,320),(1.5,280),(1.6,330),(1.7,280),(1.8,320),(1.9,280),(2.0,330),(2.1,280),(2.2,330),(2.3,280),(2.4,320),(2.5,280),(2.6,330),(2.7,280),(2.8,320),(2.9,280),(3.0,330),(3.1,280),(3.2,320),(3.3,280),(3.4,330),(3.5,280),(3.6,320),(3.7,280),(3.8,330),(3.9,280),(4.0,350),(4.1,300),(4.2,330),(4.3,280),(4.4,320),(4.5,300),(4.6,380),(4.64,100),(4.7,500),(4.8,1000),(4.9,1100),(5.0,900),(5.1,800),(5.2,650),(5.3,600),(5.4,550),(5.5,550),(5.6,900),(5.7,1600),(5.78,4800),(5.82,2500),(5.86,900),(5.9,450),(6.0,330),(6.1,280),(6.2,320),(6.3,270),(6.4,330),(6.5,280),(6.6,320),(6.7,270),(6.8,330),(6.9,280),(7.0,320),(7.1,270),(7.2,330),(7.3,280),(7.4,320),(7.5,270),(7.6,330),(7.7,280),(7.8,320),(7.9,270),(7.95,300)]
P4_GRAY = [(0,1000),(0.1,1100),(0.2,900),(0.3,1100),(0.4,1000),(0.45,1800),(0.5,1500),(0.6,1400),(0.7,1300),(0.8,1200),(0.9,1300),(1.0,1200),(1.1,1100),(1.2,1000),(1.3,1100),(1.4,1000),(1.5,1100),(1.6,900),(1.7,1000),(1.8,1100),(1.9,1200),(2.0,1400),(2.1,1200),(2.2,1000),(2.3,1100),(2.4,900),(2.5,1000),(2.6,1100),(2.7,900),(2.8,1000),(2.9,1100),(3.0,1000),(3.1,1100),(3.2,1000),(3.3,900),(3.4,1000),(3.5,1100),(3.6,1000),(3.7,1100),(3.8,900),(3.9,1000),(3.97,2600),(4.02,1100),(4.1,1000),(4.16,2300),(4.21,1000),(4.3,1100),(4.4,1000),(4.5,1200),(4.6,1500),(4.65,900),(4.7,1800),(4.8,3000),(4.9,3400),(5.0,3000),(5.1,2300),(5.2,1900),(5.3,1700),(5.4,1500),(5.5,1400),(5.6,1600),(5.7,1900),(5.8,2400),(5.9,1300),(6.0,1100),(6.1,1000),(6.2,1100),(6.3,1000),(6.4,1100),(6.5,900),(6.6,1000),(6.7,1100),(6.8,1000),(6.9,1100),(7.0,1000),(7.1,900),(7.2,1100),(7.3,1000),(7.4,1100),(7.5,1000),(7.6,900),(7.7,1000),(7.8,1100),(7.9,1000),(7.95,1000)]
P4_MIDGRAY = [(0,200),(1.3,200),(1.36,1500),(1.40,2500),(1.44,1200),(1.48,1000),(1.52,2600),(1.56,1200),(1.65,500),(1.8,250),(7.95,200)]
P4_GREEN = [(0,200),(1.82,200),(1.84,5000),(1.85,30000),(1.96,30000),(1.98,5000),(2.01,3000),(2.05,2000),(2.1,1300),(2.2,700),(2.3,400),(2.5,250),(3.40,250),(3.42,1500),(3.44,4200),(3.47,1500),(3.5,300),(4.6,300),(4.7,1000),(4.76,2500),(4.8,2900),(4.85,3000),(4.9,2800),(4.95,2600),(5.0,1800),(5.05,2300),(5.1,2000),(5.2,1600),(5.3,1500),(5.4,1300),(5.5,1200),(5.6,1400),(5.7,1700),(5.8,2100),(5.85,1300),(5.9,500),(6.0,250),(7.95,250)]
P4_LTGREEN = [(0,100),(1.87,100),(1.89,30000),(1.93,30000),(1.96,2000),(2.02,600),(2.2,200),(7.95,100)]
P4_OLIVE = [(0,150),(4.6,200),(4.7,1500),(4.75,3200),(4.8,4300),(4.85,4100),(4.9,4000),(4.95,3800),(5.0,3600),(5.05,3100),(5.1,2700),(5.2,2000),(5.3,1800),(5.4,1600),(5.5,1500),(5.6,1600),(5.7,1900),(5.8,2500),(5.85,1500),(5.9,600),(6.0,200),(7.95,150)]
P4_CYAN = [(0,900),(0.4,900),(0.44,6000),(0.47,2000),(0.5,1200),(1.0,1000),(2.0,900),(3.0,900),(3.07,2000),(3.1,4500),(3.13,1500),(3.2,1000),(3.4,1000),(3.42,8000),(3.44,20300),(3.46,8000),(3.49,1200),(3.6,1000),(4.5,1000),(4.7,1300),(4.8,2300),(5.0,2100),(5.2,1500),(5.5,1200),(5.8,1800),(5.9,1000),(7.95,1000)]
P4_MAGENTA = [(0,60),(1.85,60),(1.9,300),(1.95,60),(3.1,60),(3.13,500),(3.16,60),(7.95,60)]

# Cursor marker value on the intensity axis of each panel
CURSOR_Y = [9100, 21300, 24800, 20900]

# Tick values / labels
Y_TICKS_STD = [0, 2000, 4000, 6000, 8000, 10000, 12000, 14000, 16000, 18000, 20000, 22000, 24000, 26000, 28000, 30000, 32000]
Y_TEXT_STD = ["0.0", "2000.0", "4000.0", "6000.0", "8000.0", "1.0e4", "1.2e4", "1.4e4", "1.6e4", "1.8e4", "2.0e4", "2.2e4", "2.4e4", "2.6e4", "2.8e4", "3.0e4", "3.2e4"]
Y_TICKS_EGG = [0, 2000, 4000, 6000, 8000, 10000, 12000, 14000, 16000, 18000, 20000, 22000, 24000]
Y_TEXT_EGG = ["0.0", "2000.0", "4000.0", "6000.0", "8000.0", "1.0e4", "1.2e4", "1.4e4", "1.6e4", "1.8e4", "2.0e4", "2.2e4", "2.4e4"]

HEADERS = ["XIC of +MRM (8 pairs): 175.100/129.100 Da ID: QCA-1 from Sample 15 (2.5...",
           "XIC of +MRM (8 pairs): 175.100/129.100 Da ID: QCA-1 from Sample 19 (JQ-1...",
           "XIC of +MRM (8 pairs): 175.100/129.100 Da ID: QCA-1 from Sample 16 (YQ-...",
           "XIC of +MRM (8 pairs): 175.100/129.100 Da ID: QCA-1 from Sample 22 (AQ-..."]
MAX_TEXT = ["Max. 3830.0 cps.", "Max. 2.1e4 cps.", "Max. 5.7e4 cps.", "Max. 1.9e4 cps."]
CAPTIONS = ["<b>QCA和MQCA(2.5ng/mL)、QCA-d<sub>4</sub>和MQCA-d<sub>4</sub>(10ng/mL)混合标准溶液XIC图</b>",
            "鸡蛋(添加水平<b>0.5μg/kg)QCA</b>、<b>MQCA</b>、<b>QCA-d<sub>4</sub></b>、<b>MQCA-d<sub>4</sub></b>的<b>XIC</b>图",
            "鸭蛋(添加水平<b>0.5μg/kg)QCA</b>、<b>MQCA</b>、<b>QCA-d<sub>4</sub></b>、<b>MQCA-d<sub>4</sub></b>的<b>XIC</b>图",
            "鹌鹑蛋(添加水平<b>0.5μg/kg)QCA</b>、<b>MQCA</b>、<b>QCA-d<sub>4</sub></b>、<b>MQCA-d<sub>4</sub></b>的<b>XIC</b>图"]

PANELS = [
    dict(GRAY=P1_GRAY, CYAN=P1_CYAN, OLIVE=P1_OLIVE, GREEN=P1_GREEN, VIOLET=P1_VIOLET, NAVY=P1_NAVY, PURPLE=P1_PURPLE, TEAL=P1_TEAL, MAGENTA=P1_MAGENTA),
    dict(GRAY=P2_GRAY, CYAN=P2_CYAN, LTGREEN=P2_LTGREEN, MIDGRAY=P2_MIDGRAY, OLIVE=P2_OLIVE, GREEN=P2_GREEN, MAUVE=P2_MAUVE, VIOLET=P2_VIOLET, NAVY=P2_NAVY, PURPLE=P2_PURPLE, TEAL=P2_TEAL, MAGENTA=P2_MAGENTA),
    dict(GRAY=P3_GRAY, CYAN=P3_CYAN, LTGREEN=P3_LTGREEN, MIDGRAY=P3_MIDGRAY, OLIVE=P3_OLIVE, GREEN=P3_GREEN, MAUVE=P3_MAUVE, VIOLET=P3_VIOLET, NAVY=P3_NAVY, PURPLE=P3_PURPLE, TEAL=P3_TEAL, MAGENTA=P3_MAGENTA),
    dict(GRAY=P4_GRAY, CYAN=P4_CYAN, LTGREEN=P4_LTGREEN, MIDGRAY=P4_MIDGRAY, OLIVE=P4_OLIVE, GREEN=P4_GREEN, MAUVE=P4_MAUVE, VIOLET=P4_VIOLET, NAVY=P4_NAVY, PURPLE=P4_PURPLE, TEAL=P4_TEAL, MAGENTA=P4_MAGENTA),
]

# ======================= STYLE / LAYOUT =======================
W, H = 1080, 1842
COLORS = dict(GRAY='#d2d3d8', CYAN='#b4dde6', LTGREEN='#b2ccaa', MIDGRAY='#a59fa8', OLIVE='#b9b04e',
              GREEN='#5e9c4c', MAUVE='#7d7298', VIOLET='#5548c6', NAVY='#333488', PURPLE='#8c4a88',
              TEAL='#4f9a8c', MAGENTA='#e0348c')
ORDER = ['GRAY', 'CYAN', 'LTGREEN', 'MIDGRAY', 'OLIVE', 'GREEN', 'MAUVE', 'VIOLET', 'NAVY', 'PURPLE', 'TEAL', 'MAGENTA']

BOXES = [(59, 6, 1029, 395), (59, 470, 1029, 858), (59, 936, 1029, 1327), (59, 1401, 1029, 1794)]
PLOT_Y = [(39.5, 370.0, -300, 32400), (507.7, 833.6, -200, 25000), (976.8, 1301.6, -200, 25000), (1443.4, 1768.9, -200, 25000)]
PLOT_X = (150.7, 1017.7, -0.03, 7.96)
HEADER_Y = [14, 478, 944, 1411]
TIME_Y = [389.5, 852.5, 1321.5, 1788.5]
YTITLE_Y = [205, 668, 1138, 1604]
CAPTION_Y = [424, 890, 1358, 1827]
CAPTION_X = [563, 579, 579, 579]
TICK_FONT = dict(family='DejaVu Sans', size=14, color='#2a2a2a')
HEAD_FONT = dict(family='DejaVu Sans', size=15, color='#1a1a1a')
LABEL_FONT = dict(family='Liberation Sans', size=13, color='#1a1a1a')
YTITLE_FONT = dict(family='Liberation Sans', size=13.5, color='#1a1a1a')
CAPTION_FONT = dict(family='Liberation Sans, Noto Sans CJK SC', size=26.7, color='#111111')


def fx(px):
    return px / W


def fy(py):
    return 1 - py / H


fig = go.Figure()
layout = dict(width=W, height=H, margin=dict(l=0, r=0, t=0, b=0), paper_bgcolor='white',
              plot_bgcolor='white', showlegend=False)
shapes, annotations = [], []

for i, panel in enumerate(PANELS):
    k = '' if i == 0 else str(i + 1)
    xa, ya = 'x' + k, 'y' + k
    for name in ORDER:
        if name not in panel:
            continue
        pts = sorted(panel[name])
        fig.add_trace(go.Scatter(x=[p[0] for p in pts], y=[p[1] for p in pts], mode='lines',
                                 line=dict(color=COLORS[name], width=1.1), xaxis=xa, yaxis=ya,
                                 hoverinfo='skip', showlegend=False))
    fig.add_trace(go.Scatter(x=[PLOT_X[2]], y=[CURSOR_Y[i]], mode='markers', cliponaxis=False,
                             marker=dict(symbol='triangle-right', size=6, color='#1c1ca8'),
                             xaxis=xa, yaxis=ya, hoverinfo='skip', showlegend=False))
    top, bot, lo, hi = PLOT_Y[i]
    std = (i == 0)
    layout['xaxis' + k] = dict(domain=[fx(PLOT_X[0]), fx(PLOT_X[1])], range=[PLOT_X[2], PLOT_X[3]], anchor=ya,
                               tickmode='linear', tick0=0, dtick=0.5, tickformat='.1f', ticks='inside', ticklen=3,
                               tickcolor='#8a8a8a', showline=True, linecolor='#a0a0a0', linewidth=1,
                               showgrid=False, zeroline=False, tickfont=TICK_FONT, fixedrange=True,
                               ticklabelstandoff=-7,
                               minor=dict(ticks='inside', ticklen=2, tickmode='linear', tick0=0, dtick=0.1, tickcolor='#b0b0b0'))
    layout['yaxis' + k] = dict(domain=[fy(bot), fy(top)], range=[lo, hi], anchor=xa,
                               tickmode='array', tickvals=Y_TICKS_STD if std else Y_TICKS_EGG,
                               ticktext=Y_TEXT_STD if std else Y_TEXT_EGG,
                               ticks='outside', ticklen=4, tickcolor='#8a8a8a', showline=True, linecolor='#a0a0a0',
                               linewidth=1, showgrid=False, zeroline=False, tickfont=TICK_FONT, fixedrange=True,
                               minor=dict(ticks='outside', ticklen=2, tickmode='linear', tick0=0, dtick=400, tickcolor='#b0b0b0'))
    bx0, by0, bx1, by1 = BOXES[i]
    shapes.append(dict(type='rect', xref='paper', yref='paper', x0=fx(bx0), x1=fx(bx1), y0=fy(by1), y1=fy(by0),
                       line=dict(color='#c6c6c6', width=1.3), fillcolor='rgba(0,0,0,0)', layer='below'))
    hy = HEADER_Y[i]
    shapes.append(dict(type='rect', xref='paper', yref='paper', x0=fx(68), x1=fx(78), y0=fy(hy + 4.5), y1=fy(hy - 4.5),
                       line=dict(width=0), fillcolor='#1010c8'))
    annotations.append(dict(xref='paper', yref='paper', x=fx(90), y=fy(hy), xanchor='left', yanchor='middle',
                            text=HEADERS[i], showarrow=False, font=HEAD_FONT))
    annotations.append(dict(xref='paper', yref='paper', x=fx(1025), y=fy(hy), xanchor='right', yanchor='middle',
                            text=MAX_TEXT[i], showarrow=False, font=HEAD_FONT))
    annotations.append(dict(xref='paper', yref='paper', x=fx(566), y=fy(TIME_Y[i]), xanchor='center', yanchor='middle',
                            text='Time, min', showarrow=False, font=LABEL_FONT))
    annotations.append(dict(xref='paper', yref='paper', x=fx(74), y=fy(YTITLE_Y[i]), xanchor='center', yanchor='middle',
                            text='Intensity, cps', textangle=-90, showarrow=False, font=YTITLE_FONT))
    annotations.append(dict(xref='paper', yref='paper', x=fx(CAPTION_X[i]), y=fy(CAPTION_Y[i]), xanchor='center',
                            yanchor='middle', text=CAPTIONS[i], showarrow=False, font=CAPTION_FONT))

layout['shapes'] = shapes
layout['annotations'] = annotations
fig.update_layout(**layout)
fig.write_html("out.html")
